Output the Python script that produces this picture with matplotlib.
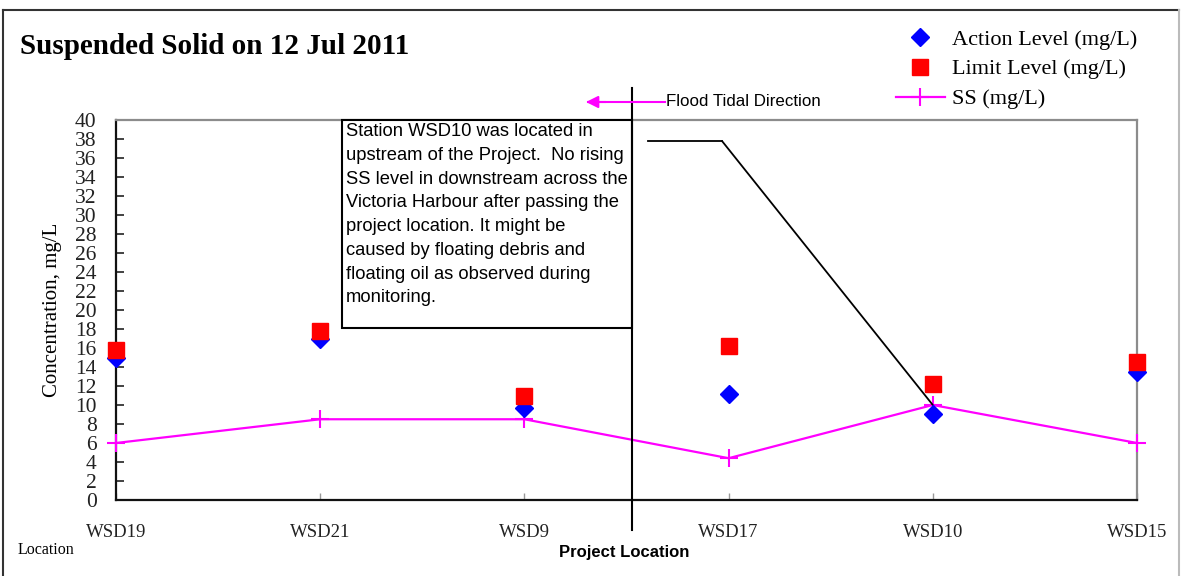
import matplotlib
matplotlib.use("Agg")
import matplotlib.pyplot as plt
from matplotlib.lines import Line2D
from matplotlib.patches import Rectangle

# --- data ---
stations = ["WSD19", "WSD21", "WSD9", "WSD17", "WSD10", "WSD15"]
action_level = [15.0, 17.0, 9.7, 11.2, 9.1, 13.5]
limit_level = [15.8, 17.8, 10.9, 16.2, 12.2, 14.5]
ss_level = [6.0, 8.5, 8.5, 4.4, 10.0, 6.0]

SERIF = "Liberation Serif"
SANS = "Liberation Sans"
MAGENTA = "#ff00ff"

W, H = 1181, 576
fig = plt.figure(figsize=(W / 100, H / 100), dpi=100)
ax = fig.add_axes([116 / W, 1 - 500 / H, (1137 - 116) / W, 380 / H])

x = list(range(len(stations)))
ax.plot(x, ss_level, color=MAGENTA, lw=1.6, marker="+", ms=13, mew=1.5,
        clip_on=False, zorder=3, label="SS (mg/L)")
ax.plot(x, action_level, ls="none", marker="D", ms=9, color="#0000ff",
        clip_on=False, zorder=4, label="Action Level (mg/L)")
ax.plot(x, limit_level, ls="none", marker="s", ms=11, color="#ff0000",
        clip_on=False, zorder=5, label="Limit Level (mg/L)")

ax.set_xlim(0, len(stations) - 1)
ax.set_ylim(0, 40)
ax.set_yticks(range(0, 41, 2))
ax.set_xticks(x)
ax.set_xticklabels(stations, fontfamily=SERIF, fontsize=13.5)
for lab in ax.get_yticklabels():
    lab.set_fontfamily(SERIF)
    lab.set_fontsize(15.5)
ax.tick_params(axis="y", direction="in", length=6, width=1.2, pad=14, colors="#222222")
ax.tick_params(axis="x", direction="in", length=5, width=1, pad=17, color="#999999",
               labelcolor="#222222")
ax.set_ylabel("Concentration, mg/L", fontfamily=SERIF, fontsize=15, labelpad=9)

for side in ("left", "bottom"):
    ax.spines[side].set_color("#111111")
    ax.spines[side].set_linewidth(1.6)
for side in ("top", "right"):
    ax.spines[side].set_color("#8c8c8c")
    ax.spines[side].set_linewidth(1.6)

# legend (order as in reference)
h, l = ax.get_legend_handles_labels()
order = [1, 2, 0]
fig.legend([h[i] for i in order], [l[i] for i in order], loc="upper left",
           bbox_to_anchor=(896 / W, 1 - 29 / H), frameon=False,
           prop={"family": SERIF, "size": 16}, handlelength=2.2,
           handletextpad=0.3, labelspacing=0.42, borderpad=0, borderaxespad=0)

# comment box
bx0, bx1 = (342 - 116) / 1021, (632 - 116) / 1021
by0 = (500 - 328) / 380
ax.add_patch(Rectangle((bx0, by0), bx1 - bx0, 1 - by0, transform=ax.transAxes,
                       fc="white", ec="black", lw=1.5, clip_on=False, zorder=6))
note = ("Station WSD10 was located in\n"
        "upstream of the Project.  No rising\n"
        "SS level in downstream across the\n"
        "Victoria Harbour after passing the\n"
        "project location. It might be\n"
        "caused by floating debris and\n"
        "floating oil as observed during\n"
        "monitoring.")
ax.text(bx0 + 4 / 1021, 1 - 3 / 380, note, transform=ax.transAxes, ha="left", va="top",
        fontfamily=SANS, fontsize=13.2, linespacing=1.52, zorder=7)

# project location divider
px = (632 - 116) / 1021
ax.plot([px, px], [(500 - 88) / 380, (500 - 530) / 380], transform=ax.transAxes,
        color="black", lw=1.5, clip_on=False, zorder=8)

# callout to WSD10
cy = (500 - 141) / 380
ax.plot([(648 - 116) / 1021, (722 - 116) / 1021], [cy, cy], transform=ax.transAxes,
        color="black", lw=1.3, clip_on=False)
ax.annotate("", xy=(4, ss_level[4]), xycoords="data",
            xytext=((722 - 116) / 1021, cy), textcoords="axes fraction",
            arrowprops=dict(arrowstyle="-", color="black", lw=1.3,
                            shrinkA=0, shrinkB=0))

# flood tidal direction arrow
ay = 1 - 102 / H
fig.add_artist(Line2D([588 / W, 665 / W], [ay, ay], color=MAGENTA, lw=1.5))
ax.annotate("", xy=(586 / W, ay), xycoords="figure fraction",
            xytext=(606 / W, ay), textcoords="figure fraction",
            arrowprops=dict(arrowstyle="-|>", color=MAGENTA, lw=1.5,
                            mutation_scale=18, shrinkA=0, shrinkB=0))
fig.text(666 / W, ay, "Flood Tidal Direction", ha="left", va="center",
         fontfamily=SANS, fontsize=12.2)

fig.text(20 / W, 1 - 46 / H, "Suspended Solid on 12 Jul 2011", ha="left", va="center",
         fontfamily=SERIF, fontweight="bold", fontsize=21)
fig.text(18 / W, 1 - 550 / H, "Location", ha="left", va="center",
         fontfamily=SERIF, fontsize=11.5)
fig.text(624 / W, 1 - 553 / H, "Project Location", ha="center", va="center",
         fontfamily=SANS, fontweight="bold", fontsize=12)

# outer frame
fig.add_artist(Line2D([3 / W, 1179 / W], [1 - 10 / H, 1 - 10 / H], color="#333333", lw=1.5))
fig.add_artist(Line2D([3 / W, 3 / W], [0, 1 - 10 / H], color="#333333", lw=1.5))
fig.add_artist(Line2D([1179 / W, 1179 / W], [0, 1 - 10 / H], color="#bbbbbb", lw=1.5))

fig.savefig("out.png", dpi=100)
